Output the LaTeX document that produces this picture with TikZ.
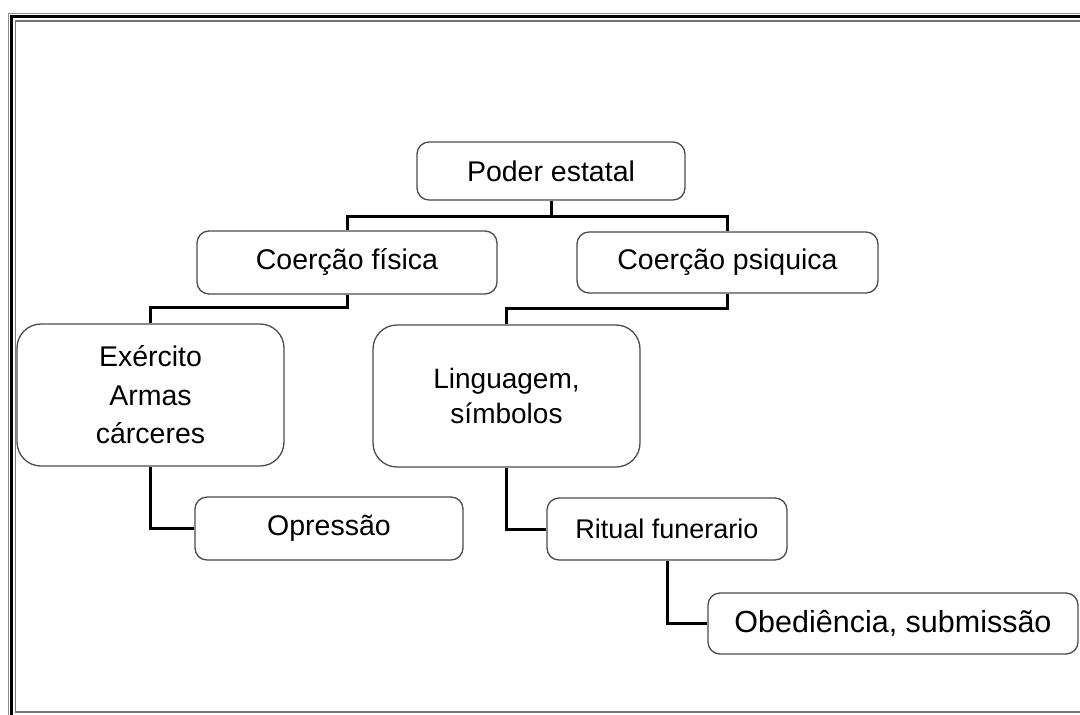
\documentclass[tikz,border=0pt]{standalone}
\usepackage{fontspec}
\setmainfont{Liberation Sans}
\begin{document}
\begin{tikzpicture}[x=1pt,y=-1pt,
  box/.style={draw=black!70, line width=1.3pt, rounded corners=12pt, fill=white,
    inner sep=0pt, align=center, font=\fontsize{28.5}{37}\selectfont},
  bigbox/.style={box, rounded corners=24pt},
  conn/.style={draw=black, line width=3pt}]
\useasboundingbox (0,0) rectangle (1080,715);
% frame
\draw[black!45, line width=1pt] (8,715) -- (8,13) -- (1080,13);
\draw[black, line width=2.6pt] (11.5,715) -- (11.5,16.5) -- (1080,16.5);
\draw[black!55, line width=1.2pt] (1080,712) -- (15.5,712) -- (15.5,21) -- (1080,21);
% nodes
\node[box, minimum width=268, minimum height=58] (poder) at (551,171) {Poder estatal};
\node[box, minimum width=300, minimum height=63] (fis) at (347,262.5) {Coerção física};
\node[box, minimum width=301, minimum height=61] (psi) at (727.5,262.5) {Coerção psiquica};
\node[bigbox, minimum width=267, minimum height=142, font=\fontsize{28.5}{38.5}\selectfont] (exe) at (150.5,395) {Exército\\Armas\\cárceres};
\node[bigbox, minimum width=267, minimum height=142, font=\fontsize{28}{35}\selectfont] (lin) at (506.5,396) {Linguagem,\\símbolos};
\node[box, minimum width=268, minimum height=63] (opr) at (329,528.5) {Opressão};
\node[box, minimum width=240, minimum height=62, font=\fontsize{27}{34}\selectfont] (rit) at (667,529) {Ritual funerario};
\node[box, minimum width=370, minimum height=61, font=\fontsize{30.5}{36}\selectfont] (obe) at (893,623.5) {Obediência, submissão};
% connectors
\draw[conn] (poder.south) -- ++(0,16) coordinate (pj);
\draw[conn] (pj) -| (fis.north);
\draw[conn] (pj) -| (psi.north);
\draw[conn] (fis.south) -- ++(0,13) -| (exe.north);
\draw[conn] (psi.south) -- ++(0,15) -| (lin.north);
\draw[conn] (exe.south) |- (opr.west);
\draw[conn] (lin.south) |- (rit.west);
\draw[conn] (rit.south) |- (obe.west);
\end{tikzpicture}
\end{document}
